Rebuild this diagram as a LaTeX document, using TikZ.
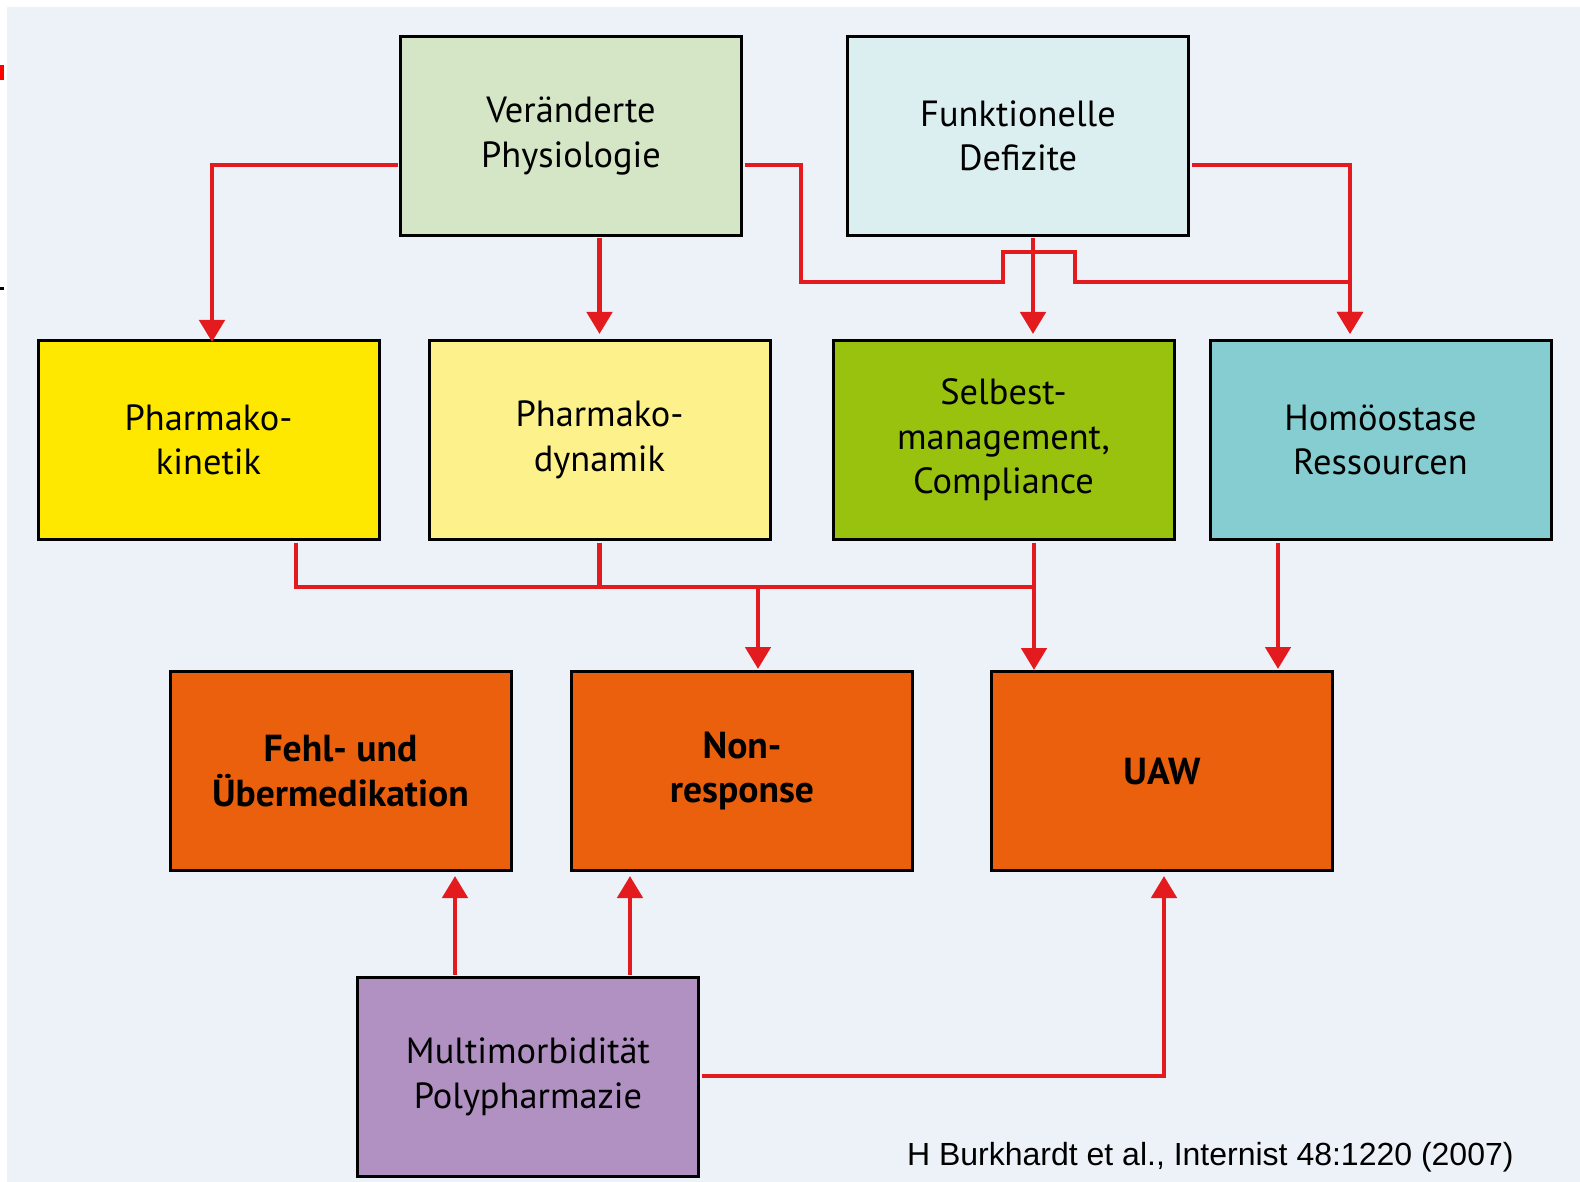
\documentclass[tikz,border=0pt]{standalone}
\usepackage{fontspec}
\setmainfont{PT Sans}
\newfontfamily\citefont{Liberation Sans}
\usetikzlibrary{arrows.meta,calc}
\definecolor{bgblue}{RGB}{237,242,249}
\definecolor{physgreen}{RGB}{212,230,197}
\definecolor{funkcyan}{RGB}{219,239,241}
\definecolor{kinyellow}{RGB}{255,232,0}
\definecolor{dynyellow}{RGB}{253,241,140}
\definecolor{selbgreen}{RGB}{152,194,14}
\definecolor{homocyan}{RGB}{133,205,208}
\definecolor{uaworange}{RGB}{234,96,12}
\definecolor{multipurple}{RGB}{176,145,194}
\definecolor{linkred}{RGB}{227,27,30}

\begin{document}
\begin{tikzpicture}[x=0.5pt, y=-0.5pt,
    box/.style={draw=black, line width=1.5pt, minimum width=170.5pt, minimum height=99.5pt,
      inner sep=0pt, align=center, font=\fontsize{18.2}{22.2}\selectfont},
    outcome/.style={box, fill=uaworange, font=\fontsize{18.8}{22.2}\selectfont\bfseries},
    line/.style={draw=linkred, line width=2.4pt, shorten <=0.75pt},
    link/.style={line, -{Triangle[width=12.5pt,length=11pt]}}]
  \useasboundingbox (0,0) rectangle (1580,1182);
  \fill[bgblue] (7,7) rectangle (1580,1182);
  \fill[red] (0,65) rectangle (4,80);
  \fill[black] (0,287) rectangle (4,290);

  \node[box, fill=physgreen] (veraenderte-physiologie) at (571,136) {Veränderte\\Physiologie};
  \node[box, fill=funkcyan] (funktionelle-defizite) at (1018,136) {Funktionelle\\Defizite};

  \node[box, fill=kinyellow] (pharmako-kinetik) at (208.5,440) {Pharmako-\\kinetik};
  \node[box, fill=dynyellow] (pharmako-dynamik) at (599.5,440) {Pharmako-\\dynamik};
  \node[box, fill=selbgreen] (selbst-management) at (1003.5,440) {Selbest-\\management,\\Compliance};
  \node[box, fill=homocyan] (homoeostase) at (1380.5,440) {Homöostase\\Ressourcen};

  \node[outcome] (fehl-medikation) at (340.5,771) {Fehl- und\\Übermedikation};
  \node[outcome] (non-response) at (742,771) {Non-\\response};
  \node[outcome] (uaw) at (1162,771) {UAW};

  \node[box, fill=multipurple] (multimorbiditaet) at (528,1077) {Multimorbidität\\Polypharmazie};

  \node[anchor=base east, inner sep=0pt, font=\citefont\fontsize{16}{18}\selectfont] (quelle) at (1514,1165)
    {H Burkhardt et al., Internist 48:1220 (2007)};

  \coordinate (hop-top) at ($(funktionelle-defizite.south)+(-15,15)$);
  \coordinate (hop-right) at ($(funktionelle-defizite.south)+(57,45)$);
  \coordinate (bus) at ($(selbst-management.south)+(30.5,46)$);

  \draw[link] ($(veraenderte-physiologie.west)+(0,29)$) -| ($(pharmako-kinetik.north)+(3.5,3)$);
  \draw[link] (pharmako-dynamik.north |- veraenderte-physiologie.south) -- ($(pharmako-dynamik.north)+(0,-5)$);
  \draw[link] ($(veraenderte-physiologie.east)+(0,29)$) -| ($(veraenderte-physiologie.east)+(58,146)$)
    -| (hop-top) -| (hop-right) -| ($(homoeostase.north)+(-30.5,-5)$);
  \draw[link] ($(funktionelle-defizite.south)+(15,0)$) -- ($(selbst-management.north)+(29.5,-5)$);
  \draw[link] ($(funktionelle-defizite.east)+(0,29)$) -| ($(homoeostase.north)+(-30.5,-5)$);

  \draw[line] ($(pharmako-kinetik.south)+(87.5,0)$) |- ($(bus)+(2,0)$);
  \draw[line] (pharmako-dynamik.south) -- (pharmako-dynamik.south |- bus);
  \draw[link] (selbst-management.south -| bus) -- (uaw.north -| bus);
  \draw[link] ($(non-response.north)+(16,-83)$) -- ($(non-response.north)+(16,-1)$);
  \draw[link] ($(homoeostase.south)+(-102.5,0)$) -- ($(uaw.north)+(116,-1)$);

  \draw[link] ($(multimorbiditaet.north)+(-73,0)$) -- ($(fehl-medikation.south)+(114.5,4)$);
  \draw[link] ($(multimorbiditaet.north)+(102,0)$) -- ($(non-response.south)+(-112,4)$);
  \draw[link] ($(multimorbiditaet.east)+(0,-1)$) -| ($(uaw.south)+(2,4)$);
\end{tikzpicture}
\end{document}
